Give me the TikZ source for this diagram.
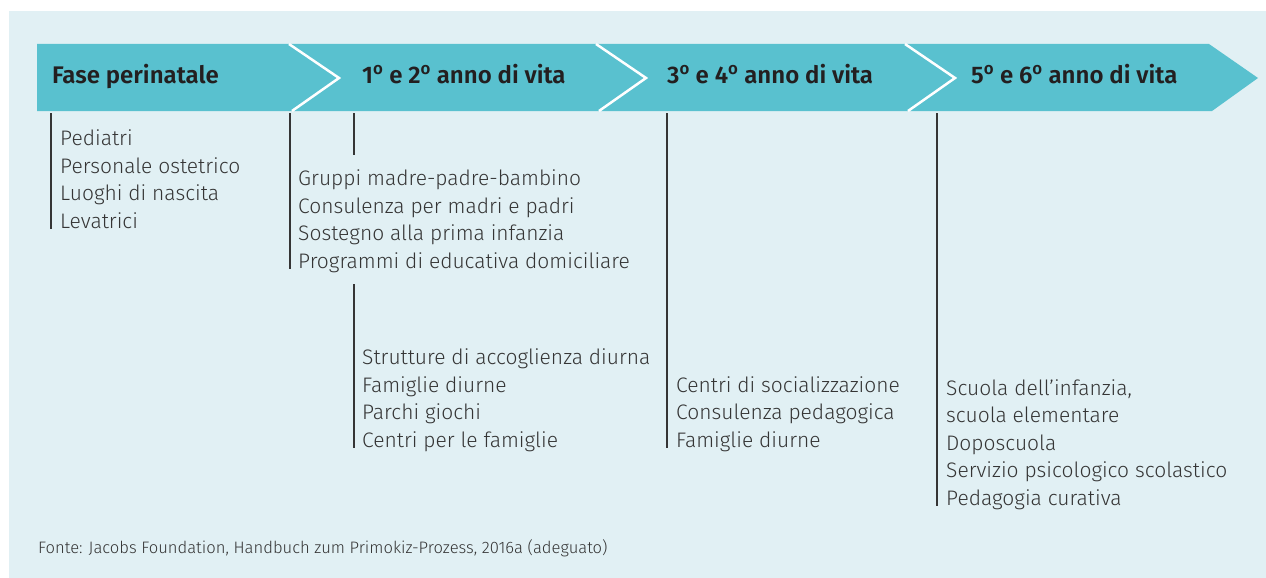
\documentclass[tikz,border=0pt]{standalone}
\usepackage{fontspec}
\setmainfont{Fira Sans}[UprightFont={* Light}]
\definecolor{bg}{HTML}{E1F0F4}
\definecolor{band}{HTML}{59C1CF}
\definecolor{txt}{HTML}{353535}
\definecolor{head}{HTML}{231F20}
\newcommand{\ord}[1]{#1\textsuperscript{o}}
\tikzset{
  phase/.style={anchor=base west, inner sep=0, text=head, font=\bfseries\fontsize{24}{26}\selectfont},
  item/.style={anchor=base west, inner sep=0, align=left, text=txt, font=\fontsize{21}{27.5}\selectfont},
  bar/.style={draw=txt, line width=1.2pt},
  gap/.style={draw=white, line width=2.5pt}
}

\begin{document}
\begin{tikzpicture}[x=1pt, y=-1pt]
\useasboundingbox (0,0) rectangle (1266,578);
% Background
    \fill[white] (0,0) rectangle (1266,578);
    \fill[bg] (9,11) rectangle (1266,578);
% Band with chevrons
    \fill[band] (37,44) -- (1209,44) -- (1258,78) -- (1212,111) -- (37,111) -- cycle;
    \foreach \t in {339,646,955}
        \draw[gap] (\t-50,44) -- (\t,78) -- (\t-47,111);
% Phases
    \node[phase] (ph0) at (52,84) {Fase perinatale};
    \node[phase] (ph1) at (362,84) {\ord{1} e \ord{2} anno di vita};
    \node[phase] (ph2) at (667,84) {\ord{3} e \ord{4} anno di vita};
    \node[phase] (ph3) at (971,84) {\ord{5} e \ord{6} anno di vita};
% Lists (anchored at the last line)
    \node[item] (l0) at (60,228) {Pediatri\\Personale ostetrico\\Luoghi di nascita\\Levatrici};
    \node[item] (l1) at (298,268) {Gruppi madre-padre-bambino\\Consulenza per madri e padri\\Sostegno alla prima infanzia\\Programmi di educativa domiciliare};
    \node[item] (l1b) at (362,447) {Strutture di accoglienza diurna\\Famiglie diurne\\Parchi giochi\\Centri per le famiglie};
    \node[item] (l2) at (676,447) {Centri di socializzazione\\Consulenza pedagogica\\Famiglie diurne};
    \node[item] (l3) at (946,505) {Scuola dell’infanzia,\\scuola elementare\\Doposcuola\\Servizio psicologico scolastico\\Pedagogia curativa};
% Bars
    \draw[bar] (51,113) -- (51,229);
    \draw[bar] (290,113) -- (290,269);
    \draw[bar] (354,113) -- (354,155);
    \draw[bar] (354,284) -- (354,448);
    \draw[bar] (667,113) -- (667,448);
    \draw[bar] (937,113) -- (937,506);
% Source
    \node[anchor=base west, inner sep=0, text=txt, font=\fontsize{16.6}{18}\selectfont] (src) at (38,553)
        {Fonte: Jacobs Foundation, Handbuch zum Primokiz-Prozess, 2016a (adeguato)};
\end{tikzpicture}
\end{document}
